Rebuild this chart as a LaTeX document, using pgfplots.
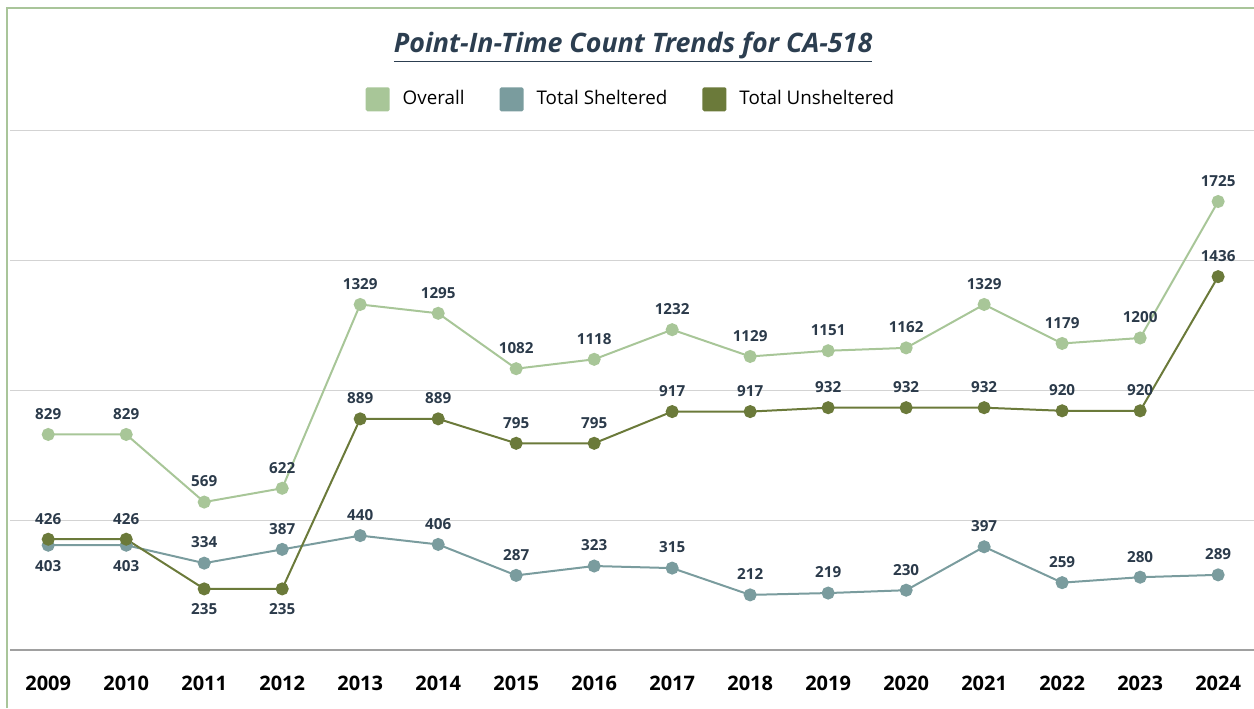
\documentclass[border=0pt]{standalone}
\usepackage{fontspec}
\setmainfont{Open Sans}
\usepackage{pgfplots}
\usepackage{pgfplotstable}
\pgfplotsset{compat=1.18}

\definecolor{overallc}{HTML}{A8C698}
\definecolor{shelterc}{HTML}{7A9C9E}
\definecolor{unshelc}{HTML}{6B7A3A}
\definecolor{labelc}{HTML}{2B3A4A}
\definecolor{titlec}{HTML}{2C3E50}
\definecolor{gridc}{HTML}{D3D3D3}
\definecolor{axisc}{HTML}{A0A0A0}
\definecolor{framec}{HTML}{A9C59A}

% pos: 1 = label above, -1 = label below
\pgfplotstableread{
year val pos
2009 829 1
2010 829 1
2011 569 1
2012 622 1
2013 1329 1
2014 1295 1
2015 1082 1
2016 1118 1
2017 1232 1
2018 1129 1
2019 1151 1
2020 1162 1
2021 1329 1
2022 1179 1
2023 1200 1
2024 1725 1
}\overall

\pgfplotstableread{
year val pos
2009 403 -1
2010 403 -1
2011 334 1
2012 387 1
2013 440 1
2014 406 1
2015 287 1
2016 323 1
2017 315 1
2018 212 1
2019 219 1
2020 230 1
2021 397 1
2022 259 1
2023 280 1
2024 289 1
}\sheltered

\pgfplotstableread{
year val pos
2009 426 1
2010 426 1
2011 235 -1
2012 235 -1
2013 889 1
2014 889 1
2015 795 1
2016 795 1
2017 917 1
2018 917 1
2019 932 1
2020 932 1
2021 932 1
2022 920 1
2023 920 1
2024 1436 1
}\unsheltered

\pgfplotsset{
  series/.style={
    color=#1, line width=1pt, mark=*, mark size=2.75pt,
    mark options={solid, fill=#1, draw=#1},
    nodes near coords, point meta=explicit symbolic,
    visualization depends on={\thisrow{pos}\as\lpos},
    every node near coord/.append style={anchor=center, yshift=\lpos*10.3pt,
      font=\bfseries\fontsize{7.6}{9}\selectfont, text=labelc},
  },
}

\begin{document}
\begin{tikzpicture}
\begin{axis}[
  at={(5pt,29pt)}, anchor=south west,
  scale only axis, width=622pt, height=260pt,
  xmin=2008.51, xmax=2024.46, ymin=0, ymax=2000,
  clip=false,
  axis line style={draw=none},
  tick style={draw=none},
  ytick={500,1000,1500,2000}, yticklabels={},
  ymajorgrids, major grid style={color=gridc, line width=0.5pt},
  extra y ticks={0}, extra y tick labels={},
  extra y tick style={grid=major, major grid style={color=axisc, line width=0.7pt}},
  xtick={2009,2010,2011,2012,2013,2014,2015,2016,2017,2018,2019,2020,2021,2022,2023,2024},
  xticklabels={2009,2010,2011,2012,2013,2014,2015,2016,2017,2018,2019,2020,2021,2022,2023,2024},
  xticklabel style={font=\bfseries\fontsize{10}{12}\selectfont, text=black, anchor=center, yshift=-16.5pt},
  legend style={at={(0.5,1.059)}, anchor=center, draw=none, fill=none,
    legend columns=3, font=\fontsize{9.4}{11}\selectfont, text=black,
    /tikz/every odd column/.append style={column sep=4.5pt},
    /tikz/every even column/.append style={column sep=15.5pt}},
]
\addplot[series=overallc,
  legend image code/.code={\fill[overallc, rounded corners=0.5pt] (0pt,-5.5pt) rectangle (11pt,5.5pt);}]
  table[x=year, y=val, meta=val] {\overall};
\addlegendentry{Overall}
\addplot[series=shelterc,
  legend image code/.code={\fill[shelterc, rounded corners=0.5pt] (0pt,-5.5pt) rectangle (11pt,5.5pt);}]
  table[x=year, y=val, meta=val] {\sheltered};
\addlegendentry{Total Sheltered}
\addplot[series=unshelc,
  legend image code/.code={\fill[unshelc, rounded corners=0.5pt] (0pt,-5.5pt) rectangle (11pt,5.5pt);}]
  table[x=year, y=val, meta=val] {\unsheltered};
\addlegendentry{Total Unsheltered}
\end{axis}
\node[font=\bfseries\itshape\fontsize{13.4}{15}\selectfont, text=titlec] at (316.5pt,330.5pt)
  {\underline{Point-In-Time Count Trends for CA-518}};
\draw[color=framec, line width=1pt] (3.5pt,0pt) -- (3.5pt,350pt) -- (627pt,350pt);
\pgfresetboundingbox
\useasboundingbox (0pt,0pt) rectangle (627pt,354pt);
\end{tikzpicture}
\end{document}
